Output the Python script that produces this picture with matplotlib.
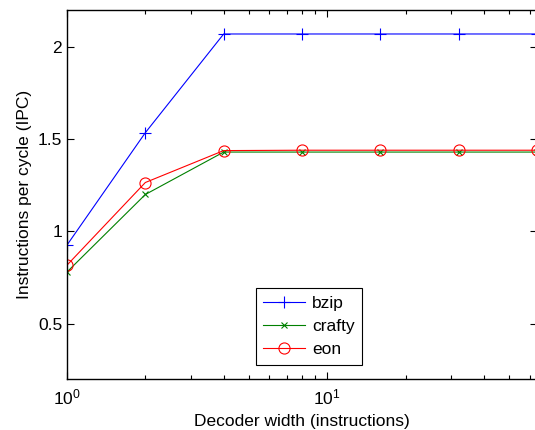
import matplotlib
matplotlib.use("Agg")
import matplotlib.pyplot as plt
from matplotlib.ticker import LogLocator, NullFormatter

plt.rcParams['font.family'] = ['Liberation Sans', 'DejaVu Sans']

widths = [1, 2, 4, 8, 16, 32, 64]
bzip = [0.926, 1.535, 2.07, 2.07, 2.07, 2.07, 2.07]
crafty = [0.78, 1.20, 1.43, 1.43, 1.43, 1.43, 1.43]
eon = [0.817, 1.265, 1.438, 1.44, 1.44, 1.44, 1.44]
series_names = ['bzip', 'crafty', 'eon']
yticks = [0.5, 1, 1.5, 2]

W, H = 535, 430
fig = plt.figure(figsize=(W / 100, H / 100), dpi=100)
left, right, top, bottom = 67, 537, 10, 379
ax = fig.add_axes([left / W, 1 - bottom / H, (right - left) / W, (bottom - top) / H])

lw = 0.8
ax.plot(widths, bzip, color='#0000ff', marker='+', markersize=8, mew=0.8, lw=lw, label=series_names[0])
ax.plot(widths, crafty, color='#008000', marker='x', markersize=4, mew=0.8, lw=lw, label=series_names[1])
ax.plot(widths, eon, color='#ff0000', marker='o', markersize=8, mfc='none', mew=0.8, lw=lw, label=series_names[2])

ax.set_xscale('log')
ax.set_xlim(1, 64)
ax.set_ylim(0.2, 2.2)
ax.set_yticks(yticks)
ax.set_yticklabels(['0.5', '1', '1.5', '2'])
ax.xaxis.set_major_locator(LogLocator(base=10))
ax.xaxis.set_minor_locator(LogLocator(base=10, subs=range(2, 10)))
ax.xaxis.set_minor_formatter(NullFormatter())

ax.tick_params(which='both', direction='in', top=True, right=True, labelsize=12.5, width=0.8)
ax.tick_params(which='major', length=5)
ax.tick_params(which='minor', length=3)
ax.tick_params(axis='x', which='major', pad=6)
for s in ax.spines.values():
    s.set_linewidth(1.0)

ax.set_xlabel('Decoder width (instructions)', fontsize=12.5, labelpad=5)
ax.set_ylabel('Instructions per cycle (IPC)', fontsize=12.5, labelpad=4)

leg = ax.legend(loc='lower center',
                bbox_to_anchor=((309 - left) / (right - left), (bottom - 365) / (bottom - top)),
                borderaxespad=0,
                fontsize=12.5, fancybox=False, edgecolor='black', framealpha=1,
                handlelength=2.4, borderpad=0.45, labelspacing=0.45, handletextpad=0.4)
leg.get_frame().set_linewidth(0.8)

fig.savefig('out.png', dpi=100)
